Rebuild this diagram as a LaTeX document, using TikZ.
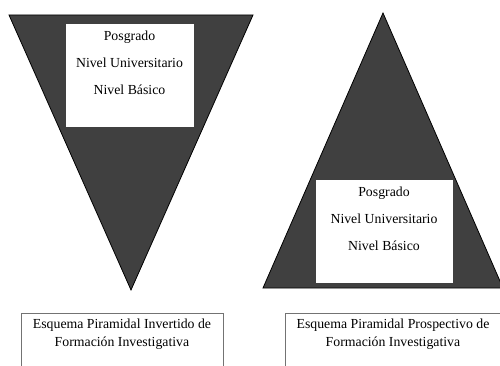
\documentclass[tikz,border=0pt]{standalone}
\usepackage{fontspec}
\setmainfont{Liberation Serif}
\definecolor{pyrgray}{RGB}{64,64,64}

\begin{document}
\begin{tikzpicture}[x=1pt,y=-1pt,pyr/.style={draw=black,fill=pyrgray,line width=0.8pt},level/.style={shape=rectangle,draw=black!75,fill=white,minimum height=104pt,inner sep=0pt},levtext/.style={anchor=north,align=center,inner sep=0pt,font=\fontsize{13.8}{27}\selectfont},capbox/.style={shape=rectangle,draw=black!55,anchor=north,minimum height=80pt,inner sep=0pt},captext/.style={anchor=north,align=center,inner sep=0pt,font=\fontsize{13.8}{18.5}\selectfont}]
\def\ytop{15};
\def\ybase{288};
\def\ycap{313};

\clip (0,0) rectangle (500,366);

% inverted pyramid
\coordinate (L1) at (9,\ytop);
\coordinate (L2) at (253,\ytop);
\coordinate (L3) at (131,290);
\draw[pyr] (L1) -- (L2) -- (L3) -- cycle;
\node[level,minimum width=129pt] (boxL) at (129.5,75) {};
\node[levtext] (txtL) at (129.5,31) {Posgrado\\Nivel Universitario\\Nivel Básico};

% prospective pyramid
\coordinate (R1) at (383,13);
\coordinate (R2) at (263,\ybase);
\coordinate (R3) at (503,\ybase);
\draw[pyr] (R1) -- (R2) -- (R3) -- cycle;
\node[level,minimum width=138pt] (boxR) at (384,231) {};
\node[levtext] (txtR) at (384,187) {Posgrado\\Nivel Universitario\\Nivel Básico};

% captions
\node[capbox,minimum width=202pt] (capL) at (122,\ycap) {};
\node[captext] (capLt) at (122,318.5) {Esquema Piramidal Invertido de\\Formación Investigativa};
\node[capbox,minimum width=216pt] (capR) at (393,\ycap) {};
\node[captext] (capRt) at (393,318.5) {Esquema Piramidal Prospectivo de\\Formación Investigativa};
\end{tikzpicture}
\end{document}
